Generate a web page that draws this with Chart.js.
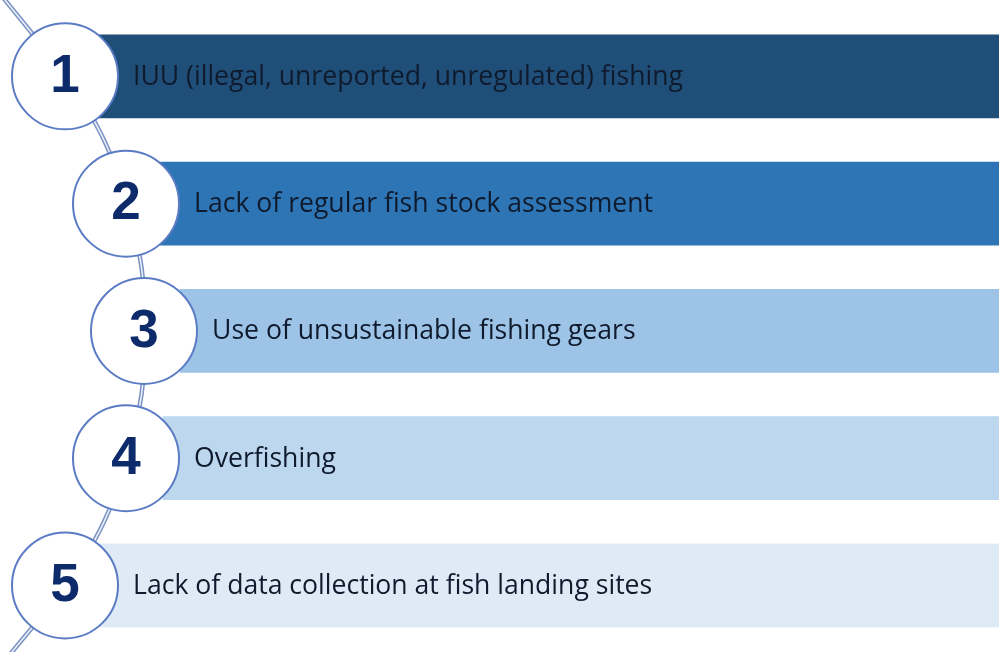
<!DOCTYPE html>
<html>
<head>
<meta charset="utf-8">
<script src="https://cdn.jsdelivr.net/npm/chart.js@4.4.0/dist/chart.umd.min.js"></script>
<style>
    body { margin: 0; background: #fff; }
    #wrap { width: 999px; height: 652px; position: relative; }
</style>
</head>
<body>
<div id="wrap"><canvas id="chart"></canvas></div>
<script>
// Rank of each issue and its text
const ranks = [1, 2, 3, 4, 5];
const issues = [
    'IUU (illegal, unreported, unregulated) fishing',
    'Lack of regular fish stock assessment',
    'Use of unsustainable fishing gears',
    'Overfishing',
    'Lack of data collection at fish landing sites'
];
// Horizontal extent of each band, and where its number badge sits
const barStart = [98, 160, 180, 163, 100];
const barEnd = [999, 999, 999, 999, 999];
const badgeX = [65, 126, 144, 126, 65];
// Curved thread joining the badges
const threadX = [0, 65, 104, 126, 141.5, 144, 141.5, 126, 104, 65, 4];
const threadY = [0.35, 1, 1.5, 2, 2.5, 3, 3.5, 4, 4.5, 5, 5.6];

const bandColors = ['#1f4e79', '#2e75b6', '#9dc3e6', '#bdd7ee', '#deebf7'];

// Draw labels and badge numbers
const labelPlugin = {
    id: 'labels',
    afterDatasetsDraw(chart) {
        const ctx = chart.ctx;
        const xs = chart.scales.x;
        const ys = chart.scales.y;
        ctx.save();
        ctx.textBaseline = 'middle';
        ranks.forEach((r, i) => {
            const y = ys.getPixelForValue(r);
            const cx = xs.getPixelForValue(badgeX[i]);
            ctx.fillStyle = '#0f1b2d';
            ctx.font = '26.6px "Open Sans", sans-serif';
            ctx.textAlign = 'left';
            ctx.fillText(issues[i], cx + 68, y + 1);
            ctx.fillStyle = '#0d2a6b';
            ctx.font = 'bold 53px "Liberation Sans", Arial, sans-serif';
            ctx.textAlign = 'center';
            ctx.fillText(String(r), cx, y + 1);
        });
        ctx.restore();
    }
};

new Chart(document.getElementById('chart'), {
    type: 'bar',
    data: {
        datasets: [
            {
                type: 'line',
                indexAxis: 'y',
                data: ranks.map((r, i) => ({ x: badgeX[i], y: r })),
                showLine: false,
                pointRadius: 53,
                pointHoverRadius: 53,
                pointBackgroundColor: '#ffffff',
                pointBorderColor: '#5b7cc4',
                pointBorderWidth: 2,
                order: 1
            },
            {
                type: 'line',
                indexAxis: 'y',
                data: threadX.map((x, i) => ({ x: x, y: threadY[i] })),
                borderColor: '#eef2f9',
                borderWidth: 1.5,
                pointRadius: 0,
                tension: 0.4,
                order: 2
            },
            {
                type: 'line',
                indexAxis: 'y',
                data: threadX.map((x, i) => ({ x: x, y: threadY[i] })),
                borderColor: '#7a92c4',
                borderWidth: 4.5,
                pointRadius: 0,
                tension: 0.4,
                order: 3
            },
            {
                type: 'bar',
                data: ranks.map((r, i) => ({ x: [barStart[i], barEnd[i]], y: r })),
                backgroundColor: bandColors,
                barThickness: 83,
                borderWidth: 0,
                order: 4
            }
        ]
    },
    options: {
        indexAxis: 'y',
        responsive: true,
        maintainAspectRatio: false,
        animation: false,
        events: [],
        layout: { padding: 0, autoPadding: false },
        scales: {
            x: { type: 'linear', min: 0, max: 999, offset: false, display: false },
            y: { type: 'linear', min: 0.4, max: 5.523, reverse: true, offset: false, display: false }
        },
        plugins: {
            legend: { display: false },
            tooltip: { enabled: false }
        }
    },
    plugins: [labelPlugin]
});
</script>
</body>
</html>
